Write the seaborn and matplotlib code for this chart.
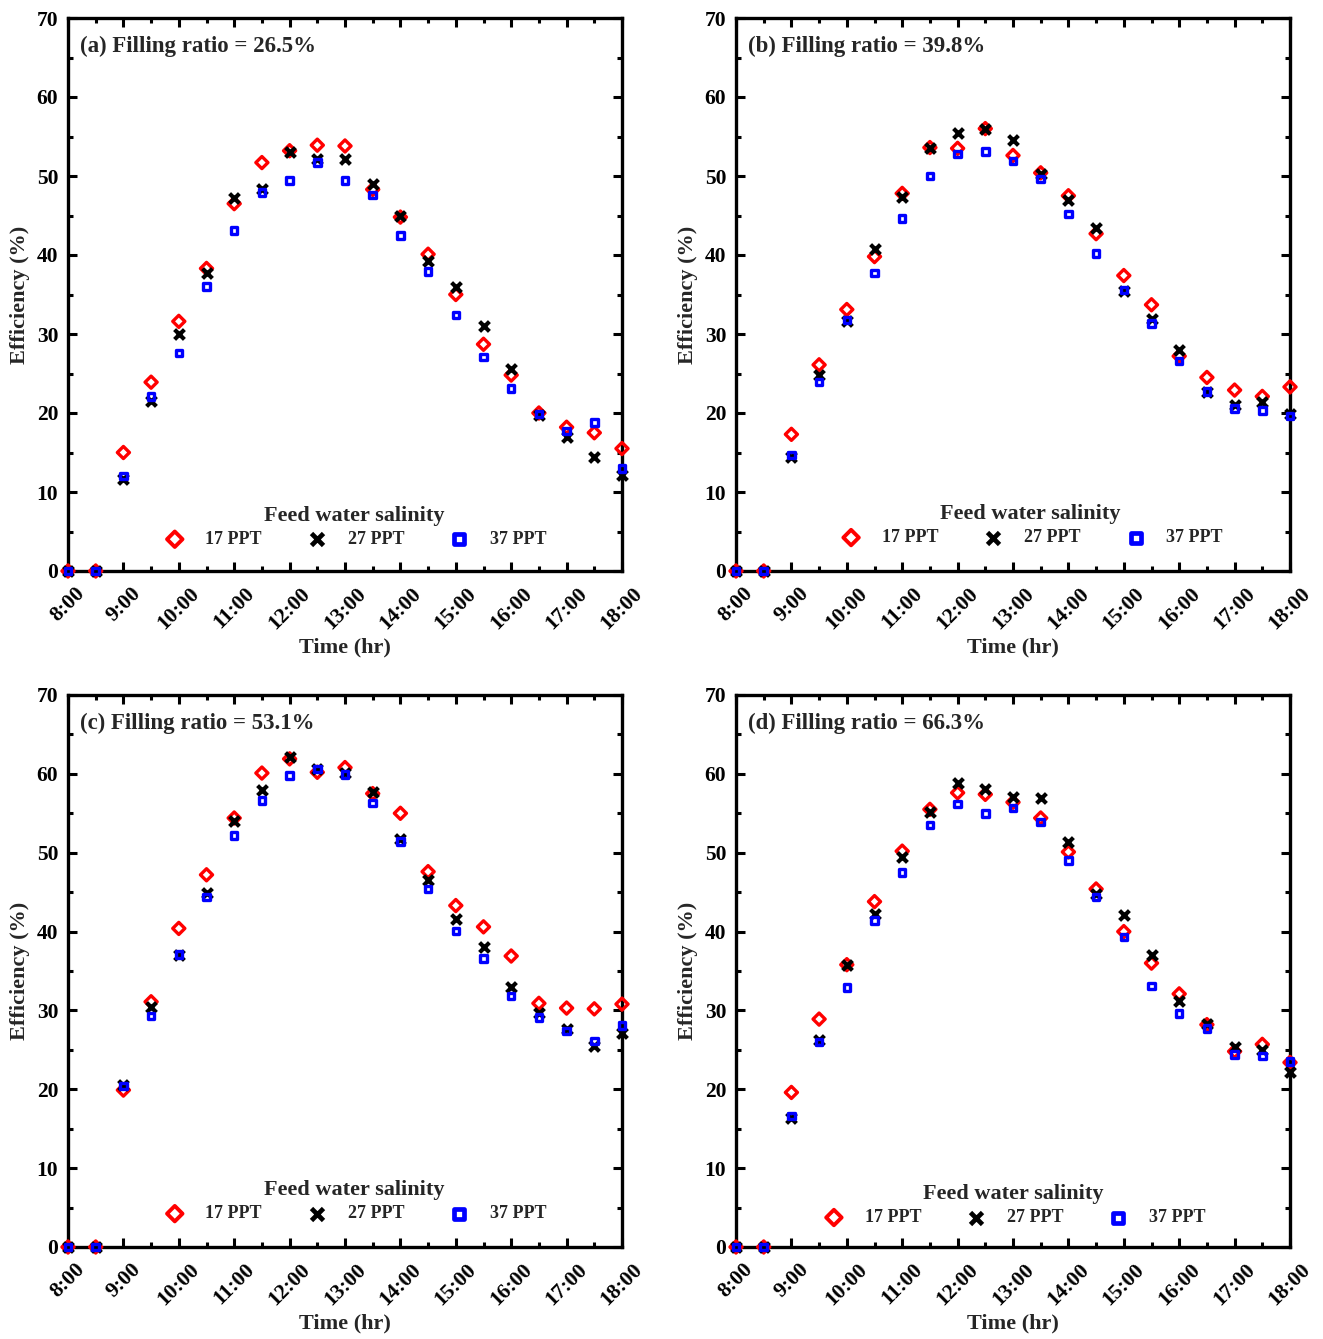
import matplotlib
matplotlib.use("Agg")
import matplotlib.pyplot as plt
from matplotlib.ticker import MultipleLocator
import seaborn as sns
import numpy as np

# ---------------- data ----------------
times = ["8:00", "8:30", "9:00", "9:30", "10:00", "10:30", "11:00", "11:30",
         "12:00", "12:30", "13:00", "13:30", "14:00", "14:30", "15:00", "15:30",
         "16:00", "16:30", "17:00", "17:30", "18:00"]
hour_labels = ["8:00", "9:00", "10:00", "11:00", "12:00", "13:00", "14:00",
               "15:00", "16:00", "17:00", "18:00"]
series_names = ["17 PPT", "27 PPT", "37 PPT"]
panel_titles = ["(a) Filling ratio = 26.5%", "(b) Filling ratio = 39.8%",
                "(c) Filling ratio = 53.1%", "(d) Filling ratio = 66.3%"]

a_17 = [0, 0, 15.0, 23.9, 31.6, 38.3, 46.5, 51.7, 53.2, 53.9, 53.8, 48.3, 44.8, 40.1, 35.0, 28.7, 24.8, 20.0, 18.2, 17.5, 15.5]
a_27 = [0, 0, 11.6, 21.5, 30.0, 37.7, 47.2, 48.4, 53.1, 52.2, 52.2, 49.0, 44.9, 39.2, 36.0, 31.0, 25.6, 19.8, 17.0, 14.4, 12.2]
a_37 = [0, 0, 12.0, 22.1, 27.6, 36.0, 43.1, 47.9, 49.4, 51.7, 49.4, 47.6, 42.5, 37.9, 32.4, 27.1, 23.1, 19.9, 17.7, 18.8, 13.0]

b_17 = [0, 0, 17.3, 26.1, 33.1, 39.8, 47.8, 53.6, 53.5, 56.0, 52.6, 50.4, 47.5, 42.7, 37.4, 33.7, 27.2, 24.5, 22.9, 22.1, 23.3]
b_27 = [0, 0, 14.4, 24.8, 31.7, 40.7, 47.3, 53.6, 55.4, 55.9, 54.5, 50.3, 47.0, 43.4, 35.5, 31.9, 28.0, 22.7, 21.0, 21.4, 19.9]
b_37 = [0, 0, 14.7, 23.9, 31.8, 37.7, 44.6, 50.0, 52.8, 53.1, 51.9, 49.6, 45.2, 40.2, 35.6, 31.3, 26.6, 22.7, 20.6, 20.3, 19.6]

c_17 = [0, 0, 19.9, 31.1, 40.4, 47.2, 54.4, 60.1, 61.9, 60.2, 60.8, 57.5, 55.0, 47.6, 43.3, 40.6, 36.9, 30.9, 30.3, 30.2, 30.8]
c_27 = [0, 0, 20.5, 30.4, 37.0, 44.9, 54.0, 57.9, 62.1, 60.6, 60.1, 57.7, 51.8, 46.6, 41.6, 38.1, 33.0, 29.7, 27.7, 25.5, 27.2]
c_37 = [0, 0, 20.4, 29.3, 37.1, 44.4, 52.2, 56.6, 59.8, 60.6, 59.9, 56.3, 51.4, 45.4, 40.1, 36.6, 31.8, 29.1, 27.4, 26.1, 28.1]

d_17 = [0, 0, 19.6, 28.9, 35.8, 43.8, 50.2, 55.5, 57.6, 57.4, 56.4, 54.4, 50.1, 45.4, 40.0, 36.0, 32.1, 28.2, 24.8, 25.7, 23.4]
d_27 = [0, 0, 16.3, 26.3, 35.7, 42.2, 49.4, 55.1, 58.9, 58.1, 57.1, 56.9, 51.4, 44.8, 42.1, 37.0, 31.2, 28.3, 25.4, 25.0, 22.2]
d_37 = [0, 0, 16.6, 26.0, 32.9, 41.4, 47.5, 53.5, 56.2, 55.0, 55.7, 53.9, 49.0, 44.4, 39.3, 33.1, 29.6, 27.7, 24.4, 24.2, 23.5]

panels = [(a_17, a_27, a_37), (b_17, b_27, b_37), (c_17, c_27, c_37), (d_17, d_27, d_37)]

def to_hours(t):
    h, m = t.split(":")
    return int(h) + int(m) / 60.0

x_hours = [to_hours(t) for t in times]
tick_hours = [to_hours(t) for t in hour_labels]

# ---------------- style ----------------
sns.set_theme(style="ticks")
plt.rcParams["font.family"] = ["Liberation Serif", "DejaVu Serif"]
plt.rcParams["font.weight"] = "bold"
plt.rcParams["axes.labelweight"] = "bold"

W, H = 1323, 1339
fig = plt.figure(figsize=(W / 100, H / 100), dpi=100)

# axes rectangles in pixels (left, top, right, bottom)
rects = [(68, 18, 622, 571), (736, 18, 1290, 571),
         (68, 695, 622, 1247), (736, 695, 1290, 1247)]
legend_x = [0.516, 0.531, 0.516, 0.50]
legend_y = [0.080, 0.083, 0.083, 0.076]

styles = [
    dict(marker="D", s=38, facecolor="none", edgecolor="#FF0000", linewidth=2.4),
    dict(marker="x", s=50, color="black", linewidth=3.0),
    dict(marker="s", s=22, facecolor="none", edgecolor="#0000FF", linewidth=2.4),
]
legend_sizes = [62, 75, 52]
legend_lw = [2.8, 3.4, 3.4]

for i, (rect, data) in enumerate(zip(rects, panels)):
    l, t, r, b = rect
    ax = fig.add_axes([l / W, 1 - b / H, (r - l) / W, (b - t) / H])
    for name, vals, st in zip(series_names, data, styles):
        sns.scatterplot(x=x_hours, y=vals, ax=ax, label=name, clip_on=False,
                        zorder=3, **st)
    ax.set_xlim(8, 18)
    ax.set_ylim(0, 70)
    ax.set_xticks(tick_hours)
    ax.set_xticklabels(hour_labels, rotation=45, ha="center",
                       fontsize=15.5, fontweight="bold")
    ax.xaxis.set_minor_locator(MultipleLocator(0.5))
    ax.yaxis.set_major_locator(MultipleLocator(10))
    ax.yaxis.set_minor_locator(MultipleLocator(5))
    for lab in ax.get_yticklabels():
        lab.set_fontsize(15.5)
        lab.set_fontweight("bold")
    ax.tick_params(which="both", direction="in", top=True, right=True,
                   width=2.2, colors="black")
    ax.tick_params(which="major", length=6.5, pad=7)
    ax.tick_params(which="minor", length=3.5)
    ax.tick_params(axis="x", which="major", pad=9)
    for sp in ax.spines.values():
        sp.set_linewidth(2.4)
        sp.set_color("black")
        sp.set_visible(True)
    ax.set_xlabel("Time (hr)", fontsize=16, fontweight="bold", labelpad=3)
    ax.set_ylabel("Efficiency (%)", fontsize=16, fontweight="bold", labelpad=5)
    ax.text(0.022, 0.948, panel_titles[i], transform=ax.transAxes,
            fontsize=16.5, fontweight="bold", ha="left", va="center")
    leg = ax.legend(loc="center", bbox_to_anchor=(legend_x[i], legend_y[i]),
                    ncol=3, frameon=False,
                    handlelength=1.5, handletextpad=0.95, columnspacing=2.3,
                    borderpad=0.2, labelspacing=0.3,
                    prop=dict(weight="bold", size=13),
                    title="Feed water salinity",
                    title_fontproperties=dict(weight="bold", size=16))
    for h, sz, lw in zip(leg.legend_handles, legend_sizes, legend_lw):
        h.set_sizes([sz])
        h.set_linewidths([lw])
    ax.grid(False)

fig.savefig("out.png", dpi=100)
